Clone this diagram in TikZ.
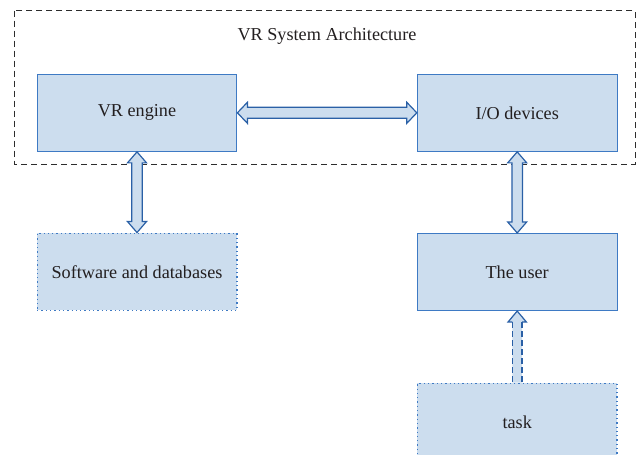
\documentclass[tikz,border=0pt]{standalone}
\usepackage{fontspec}
\setmainfont{Liberation Serif}
\usetikzlibrary{calc}
\definecolor{boxfill}{RGB}{204,221,238}
\definecolor{boxline}{RGB}{62,122,196}
\definecolor{arrline}{RGB}{42,96,166}
\definecolor{txt}{RGB}{35,31,32}
\definecolor{frameline}{RGB}{45,45,45}
\tikzset{
  blockbox/.style={draw=boxline, fill=boxfill, line width=1.1pt, minimum width=199.7pt, minimum height=77pt, inner sep=0pt, text=txt, font=\fontsize{18.2}{21}\selectfont},
  dotbox/.style={blockbox, line width=1.3pt, dash pattern=on 1.3pt off 3pt},
  arrbody/.style={draw=arrline, fill=boxfill, line width=1.2pt, line join=miter},
  arrfill/.style={fill=boxfill},
  arredge/.style={draw=arrline, line width=1.2pt},
  framestyle/.style={draw=frameline, line width=1pt, dash pattern=on 6pt off 4pt},
}
\begin{document}
\begin{tikzpicture}[x=1pt, y=-1pt]
\useasboundingbox (0,0) rectangle (638,455);
% frame
\draw[framestyle] (14.3,10.7) rectangle (635,164);
\node[text=txt, font=\fontsize{18.2}{21}\selectfont] (title) at (327,36) {VR System Architecture};
% boxes
\node[blockbox] (eng) at (137,112.8) {VR engine};
\node[blockbox] (io) at (517.2,112.8) {I/O devices};
\node[dotbox] (sw) at (137,271.7) {Software and databases};
\node[blockbox] (user) at (517.2,272) {The user};
\node[dotbox] (task) at (517.2,421.8) {task};
% horizontal double arrow eng <-> io
\draw[arrbody] (eng.east) -- ($(eng.east)+(10,-10.5)$) -- ($(eng.east)+(10,-5.5)$)
  -- ($(io.west)+(-10,-5.5)$) -- ($(io.west)+(-10,-10.5)$) -- (io.west)
  -- ($(io.west)+(-10,10.5)$) -- ($(io.west)+(-10,5.5)$)
  -- ($(eng.east)+(10,5.5)$) -- ($(eng.east)+(10,10.5)$) -- cycle;
% vertical double arrow eng <-> sw
\draw[arrbody] (eng.south) -- ($(eng.south)+(9.5,11)$) -- ($(eng.south)+(5.3,11)$)
  -- ($(sw.north)+(5.3,-11)$) -- ($(sw.north)+(9.5,-11)$) -- (sw.north)
  -- ($(sw.north)+(-9.5,-11)$) -- ($(sw.north)+(-5.3,-11)$)
  -- ($(eng.south)+(-5.3,11)$) -- ($(eng.south)+(-9.5,11)$) -- cycle;
% vertical double arrow io <-> user
\draw[arrbody] (io.south) -- ($(io.south)+(9.5,11)$) -- ($(io.south)+(5.3,11)$)
  -- ($(user.north)+(5.3,-11)$) -- ($(user.north)+(9.5,-11)$) -- (user.north)
  -- ($(user.north)+(-9.5,-11)$) -- ($(user.north)+(-5.3,-11)$)
  -- ($(io.south)+(-5.3,11)$) -- ($(io.south)+(-9.5,11)$) -- cycle;
% task -> user arrow (dashed shaft)
\fill[arrfill] (user.south) -- ($(user.south)+(9.2,11)$) -- ($(user.south)+(4.8,11)$)
  -- ($(task.north)+(4.8,0)$) -- ($(task.north)+(-4.8,0)$)
  -- ($(user.south)+(-4.8,11)$) -- ($(user.south)+(-9.2,11)$) -- cycle;
\draw[arredge] ($(user.south)+(-4.8,11)$) -- ($(user.south)+(-9.2,11)$) -- (user.south)
  -- ($(user.south)+(9.2,11)$) -- ($(user.south)+(4.8,11)$);
\draw[arredge, dash pattern=on 6pt off 3pt] ($(user.south)+(-4.8,11)$) -- ($(task.north)+(-4.8,0)$);
\draw[arredge, dash pattern=on 6pt off 3pt] ($(user.south)+(4.8,11)$) -- ($(task.north)+(4.8,0)$);
\end{tikzpicture}
\end{document}
